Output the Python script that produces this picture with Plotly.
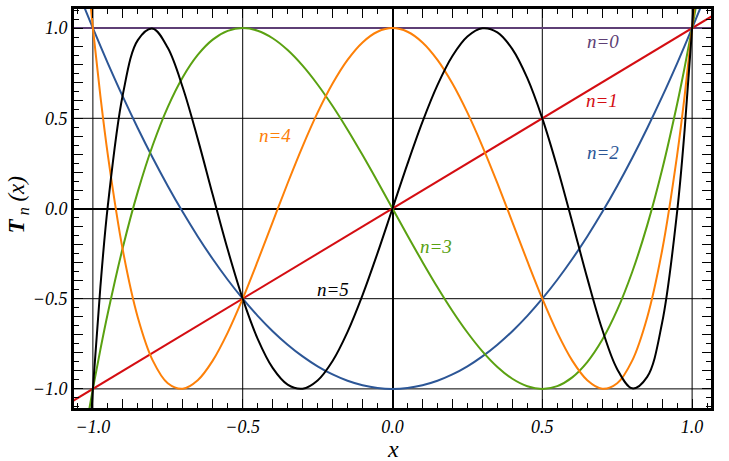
import plotly.graph_objects as go

# Sample abscissae (shared by the polynomial curves)
x_vals = [-1.1, -1.05, -1.025, -1.0, -0.975, -0.95, -0.9, -0.85, -0.8, -0.75, -0.7, -0.65,
          -0.6, -0.55, -0.5, -0.45, -0.4, -0.35, -0.3, -0.25, -0.2, -0.15, -0.1, -0.05,
          0.0, 0.05, 0.1, 0.15, 0.2, 0.25, 0.3, 0.35, 0.4, 0.45, 0.5, 0.55, 0.6, 0.65,
          0.7, 0.75, 0.8, 0.85, 0.9, 0.95, 0.975, 1.0, 1.025, 1.05, 1.1]

t0_x = [-1.1, 1.1]
t0_y = [1.0, 1.0]
t1_x = [-1.1, 1.1]
t1_y = [-1.1, 1.1]

t2_y = [1.42, 1.205, 1.10125, 1.0, 0.90125, 0.805, 0.62, 0.445, 0.28, 0.125, -0.02, -0.155,
        -0.28, -0.395, -0.5, -0.595, -0.68, -0.755, -0.82, -0.875, -0.92, -0.955, -0.98, -0.995,
        -1.0, -0.995, -0.98, -0.955, -0.92, -0.875, -0.82, -0.755, -0.68, -0.595, -0.5, -0.395,
        -0.28, -0.155, -0.02, 0.125, 0.28, 0.445, 0.62, 0.805, 0.90125, 1.0, 1.10125, 1.205, 1.42]

t3_y = [-2.024, -1.4805, -1.2326, -1.0, -0.7824, -0.5795, -0.216, 0.0935, 0.352, 0.5625, 0.728, 0.8515,
        0.936, 0.9845, 1.0, 0.9855, 0.944, 0.8785, 0.792, 0.6875, 0.568, 0.4365, 0.296, 0.1495,
        0.0, -0.1495, -0.296, -0.4365, -0.568, -0.6875, -0.792, -0.8785, -0.944, -0.9855, -1.0, -0.9845,
        -0.936, -0.8515, -0.728, -0.5625, -0.352, -0.0935, 0.216, 0.5795, 0.7824, 1.0, 1.2326, 1.4805, 2.024]

t4_y = [3.0328, 1.90405, 1.4255, 1.0, 0.6245, 0.29605, -0.2312, -0.60395, -0.8432, -0.96875, -0.9992, -0.95195,
        -0.8432, -0.68795, -0.5, -0.29195, -0.0752, 0.14005, 0.3448, 0.53125, 0.6928, 0.82405, 0.9208, 0.98005,
        1.0, 0.98005, 0.9208, 0.82405, 0.6928, 0.53125, 0.3448, 0.14005, -0.0752, -0.29195, -0.5, -0.68795,
        -0.8432, -0.95195, -0.9992, -0.96875, -0.8432, -0.60395, -0.2312, 0.29605, 0.6245, 1.0, 1.4255, 1.90405, 3.0328]

t5_y = [-4.64816, -2.518, -1.6897, -1.0, -0.4353, 0.017005, 0.63216, 0.933215, 0.99712, 0.890625, 0.67088, 0.386035,
        0.07584, -0.227755, -0.5, -0.722745, -0.88384, -0.976535, -0.99888, -0.953125, -0.84512, -0.683715, -0.48016, -0.2475,
        0.0, 0.2475, 0.48016, 0.683715, 0.84512, 0.953125, 0.99888, 0.976535, 0.88384, 0.722745, 0.5, 0.227755,
        -0.07584, -0.386035, -0.67088, -0.890625, -0.99712, -0.933215, -0.63216, -0.017005, 0.4353, 1.0, 1.6897, 2.518, 4.64816]

labels = ["n=0", "n=1", "n=2", "n=3", "n=4", "n=5"]
label_x = [0.704, 0.698, 0.701, 0.144, -0.392, -0.199]
label_y = [0.928, 0.600, 0.312, -0.209, 0.404, -0.448]
colors = ["#5e3f75", "#d40d12", "#2c5696", "#5aa111", "#fd8008", "#000000"]

major_vals = [round(-1.0 + 0.1 * i, 1) for i in range(21)]
label_vals = [-1.0, -0.5, 0.0, 0.5, 1.0]
label_text = ["\u22121.0", "\u22120.5", "0.0", "0.5", "1.0"]
tick_text = [label_text[label_vals.index(v)] if v in label_vals else " " for v in major_vals]
grid_vals = [-1.0, -0.5, 0.5, 1.0]

SERIF = "Times New Roman"

fig = go.Figure()
series = [(t0_x, t0_y), (t1_x, t1_y), (x_vals, t2_y), (x_vals, t3_y), (x_vals, t4_y), (x_vals, t5_y)]
for (xs, ys), c in zip(series, colors):
    fig.add_trace(go.Scatter(x=xs, y=ys, mode="lines",
                             line=dict(color=c, width=2, shape="spline", smoothing=1.0),
                             showlegend=False, hoverinfo="skip"))

for t, lx, ly, c in zip(labels, label_x, label_y, colors):
    fig.add_annotation(x=lx, y=ly, text=t, showarrow=False,
                       font=dict(family=SERIF, size=19, color=c, style="italic"))

for g in grid_vals:
    fig.add_shape(type="line", xref="x", yref="paper", x0=g, x1=g, y0=0, y1=1,
                  line=dict(color="black", width=1), layer="below")
    fig.add_shape(type="line", xref="paper", yref="y", x0=0, x1=1, y0=g, y1=g,
                  line=dict(color="black", width=1), layer="below")

# axis titles
fig.add_annotation(xref="paper", yref="paper", x=0.5, y=-0.102, yanchor="middle",
                   text="x", showarrow=False,
                   font=dict(family=SERIF, size=24, color="black", style="italic"))
fig.add_annotation(xref="paper", yref="paper", x=-0.088, y=0.51, xanchor="center", yanchor="middle",
                   text="<b>T</b><sub> n</sub> (x)", showarrow=False, textangle=-90,
                   font=dict(family=SERIF, size=23, color="black", style="italic"))

tickfont = dict(family=SERIF, size=18, color="black", style="italic")
axis_common = dict(
    tickmode="array", tickvals=major_vals, ticktext=tick_text,
    ticks="inside", ticklen=9, tickwidth=1, tickcolor="black",
    minor=dict(dtick=0.05, ticks="inside", ticklen=5, tickwidth=1, tickcolor="black"),
    showline=True, linewidth=3, linecolor="black", mirror="ticks",
    showgrid=False, zeroline=True, zerolinecolor="black", zerolinewidth=2,
    tickfont=tickfont, automargin=False,
)

fig.update_layout(
    width=729, height=461,
    margin=dict(l=74, r=18, t=9, b=53),
    paper_bgcolor="white", plot_bgcolor="white",
    xaxis=dict(range=[-1.063, 1.063], **axis_common),
    yaxis=dict(range=[-1.106, 1.106], **axis_common),
)

fig.write_html("out.html", config={"displayModeBar": False},
               post_script="document.body.style.margin='0px';")
